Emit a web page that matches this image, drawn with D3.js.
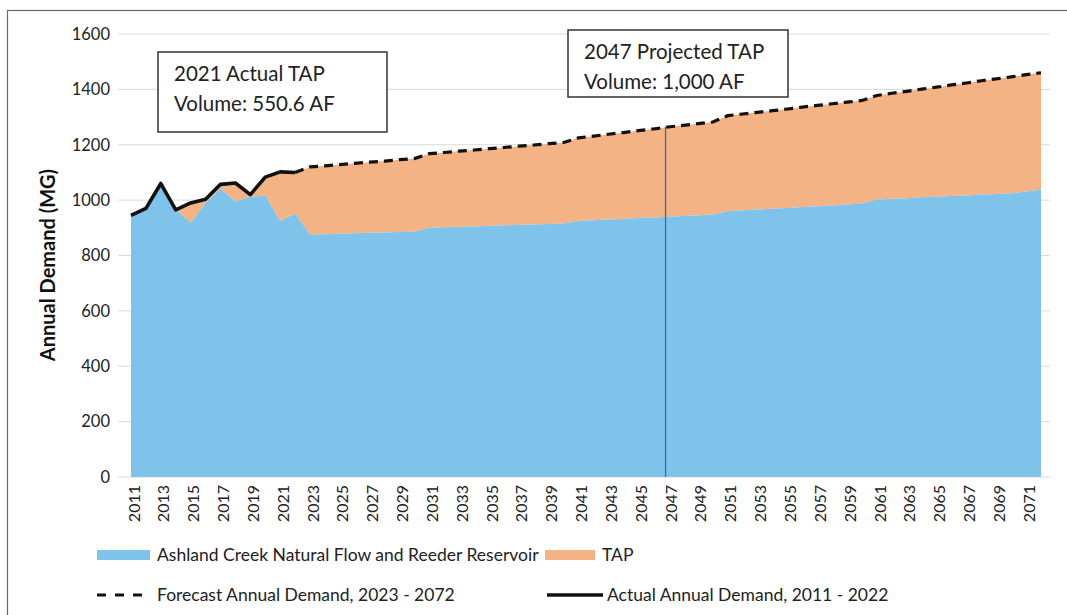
<!DOCTYPE html>
<html><head><meta charset="utf-8">
<script src="https://cdn.jsdelivr.net/npm/d3@7"></script>
<style>
html,body{margin:0;padding:0;background:#fff;}
svg{display:block;font-family:Lato,"Open Sans",sans-serif;}
</style></head>
<body>
<svg id="chart" width="1067" height="615"></svg>
<script>
// ---------- data ----------
const years = [2011,2012,2013,2014,2015,2016,2017,2018,2019,2020,2021,2022,2023,2024,2025,2026,2027,2028,2029,2030,
  2031,2032,2033,2034,2035,2036,2037,2038,2039,2040,2041,2042,2043,2044,2045,2046,2047,2048,2049,2050,
  2051,2052,2053,2054,2055,2056,2057,2058,2059,2060,2061,2062,2063,2064,2065,2066,2067,2068,2069,2070,2071,2072];
// Ashland Creek Natural Flow and Reeder Reservoir (MG)
const naturalFlow = [945,970,1056,965,918,990,1042,995,1012,1018,925,952,876,877,879,880,882,883,885,887,
  900,902,904,905,907,909,911,912,914,916,925,927,930,932,935,937,940,943,945,948,
  960,963,966,969,972,975,978,981,984,988,1002,1005,1007,1010,1012,1015,1017,1020,1022,1025,1031,1038];
// Actual annual demand 2011-2022 (MG)
const actualYears = [2011,2012,2013,2014,2015,2016,2017,2018,2019,2020,2021,2022];
const actualDemand = [945,970,1060,965,990,1003,1057,1062,1020,1083,1102,1100];
// Forecast annual demand 2023-2072 (MG)
const forecastYears = years.slice(12);
const forecastDemand = [1120,1124,1128,1133,1137,1141,1146,1150,1168,1172,1177,1181,1186,1190,1195,1199,1204,1208,
  1225,1231,1238,1244,1251,1257,1264,1270,1276,1282,1305,1311,1317,1323,1329,1336,1342,1348,1354,1360,
  1378,1386,1393,1401,1408,1416,1423,1431,1438,1445,1453,1460];
const yTicks = [0,200,400,600,800,1000,1200,1400,1600];
const xTickYears = years.filter((d,i)=>i%2===0 && d<2072);
const markerYear = 2047;
const annotations = [
  {lines:["2021 Actual TAP","Volume: 550.6 AF"], x:158, y:52, w:229, h:80},
  {lines:["2047 Projected TAP","Volume: 1,000 AF"], x:568, y:30, w:220, h:67}
];
const legendItems = [
  {label:"Ashland Creek Natural Flow and Reeder Reservoir", type:"swatch", color:"#80c3ea", x:97, y:555},
  {label:"TAP", type:"swatch", color:"#f3b384", x:545, y:555},
  {label:"Forecast Annual Demand, 2023 - 2072", type:"dash", x:97, y:595},
  {label:"Actual Annual Demand, 2011 - 2022", type:"solid", x:547, y:595}
];

// ---------- chart ----------
const blue = "#80c3ea", orange = "#f3b384";
const svg = d3.select("#chart");
const x = d3.scaleLinear().domain([2011,2072]).range([131,1041]);
const y = d3.scaleLinear().domain([0,1600]).range([477,34]);

// outer border
svg.append("rect").attr("x",7.5).attr("y",10.5).attr("width",1080).attr("height",620)
  .attr("fill","none").attr("stroke","#666").attr("stroke-width",1.2);

// gridlines
svg.append("g").selectAll("line").data(yTicks).join("line")
  .attr("x1",118).attr("x2",1050).attr("y1",d=>y(d)).attr("y2",d=>y(d))
  .attr("stroke","#d9d9d9").attr("stroke-width",1);

// y tick labels
svg.append("g").selectAll("text").data(yTicks).join("text")
  .attr("x",110).attr("y",d=>y(d)).attr("dy","0.35em").attr("text-anchor","end")
  .attr("font-size",16.5).attr("fill","#222").text(d=>d);

// y title
svg.append("text").attr("transform","translate(48,265) rotate(-90)")
  .attr("dy","0.35em")
  .attr("text-anchor","middle").attr("font-size",20).attr("font-weight","bold").attr("fill","#111")
  .text("Annual Demand (MG)");

// data table
const totalDemand = years.map(yr => yr<=2022 ? actualDemand[actualYears.indexOf(yr)] : forecastDemand[forecastYears.indexOf(yr)]);
const rows = years.map((yr,i)=>({year:yr, nat:naturalFlow[i], total:totalDemand[i]}));

// TAP area (between natural flow and total demand)
svg.append("path").datum(rows)
  .attr("d", d3.area().x(d=>x(d.year)).y0(d=>y(d.nat)).y1(d=>y(d.total)))
  .attr("fill",orange);
// Natural flow area
svg.append("path").datum(rows)
  .attr("d", d3.area().x(d=>x(d.year)).y0(y(0)).y1(d=>y(d.nat)))
  .attr("fill",blue);

// marker line at 2047
const mi = years.indexOf(markerYear);
svg.append("line").attr("x1",x(markerYear)-2.5).attr("x2",x(markerYear)-2.5)
  .attr("y1",y(totalDemand[mi])).attr("y2",y(0))
  .attr("stroke","#2f6fb8").attr("stroke-width",1.3);

// forecast dashed line
const fpts = [[2022, actualDemand[actualDemand.length-1]]].concat(forecastYears.map((yr,i)=>[yr,forecastDemand[i]]));
svg.append("path").datum(fpts)
  .attr("d", d3.line().x(d=>x(d[0])).y(d=>y(d[1])))
  .attr("fill","none").attr("stroke","#111").attr("stroke-width",3.2)
  .attr("stroke-dasharray","9,6");

// actual solid line
svg.append("path").datum(actualYears.map((yr,i)=>[yr,actualDemand[i]]))
  .attr("d", d3.line().x(d=>x(d[0])).y(d=>y(d[1])))
  .attr("fill","none").attr("stroke","#111").attr("stroke-width",3.6).attr("stroke-linejoin","round");

// x tick labels
svg.append("g").selectAll("text").data(xTickYears).join("text")
  .attr("transform",d=>`translate(${x(d)+3},485) rotate(-90)`)
  .attr("dy","0.35em").attr("text-anchor","end")
  .attr("font-size",16).attr("fill","#222").text(d=>d);

// annotation boxes
annotations.forEach(a=>{
  const g = svg.append("g");
  g.append("rect").attr("x",a.x).attr("y",a.y).attr("width",a.w).attr("height",a.h)
    .attr("fill","#fff").attr("stroke","#333").attr("stroke-width",1.5);
  a.lines.forEach((t,i)=>{
    g.append("text").attr("x",a.x+16).attr("y",a.y+29+i*30)
      .attr("font-size",20.5).attr("fill","#222").text(t);
  });
});

// legend
const lfs = 17.5;
legendItems.forEach(l=>{
  const g = svg.append("g");
  if(l.type==="swatch"){
    g.append("rect").attr("x",l.x).attr("y",l.y-5).attr("width",l.label==="TAP"?50:53).attr("height",10).attr("fill",l.color);
    g.append("text").attr("x",l.x+(l.label==="TAP"?57:60)).attr("y",l.y).attr("dy","0.35em")
      .attr("font-size",lfs).attr("fill","#222").text(l.label);
  } else if(l.type==="dash"){
    g.append("line").attr("x1",l.x).attr("x2",l.x+52).attr("y1",l.y).attr("y2",l.y)
      .attr("stroke","#111").attr("stroke-width",3).attr("stroke-dasharray","9,9");
    g.append("text").attr("x",l.x+60).attr("y",l.y).attr("dy","0.35em")
      .attr("font-size",lfs).attr("fill","#222").text(l.label);
  } else {
    g.append("line").attr("x1",l.x).attr("x2",l.x+56).attr("y1",l.y).attr("y2",l.y)
      .attr("stroke","#111").attr("stroke-width",3.6);
    g.append("text").attr("x",l.x+60).attr("y",l.y).attr("dy","0.35em")
      .attr("font-size",lfs).attr("fill","#222").text(l.label);
  }
});
</script>
</body></html>
